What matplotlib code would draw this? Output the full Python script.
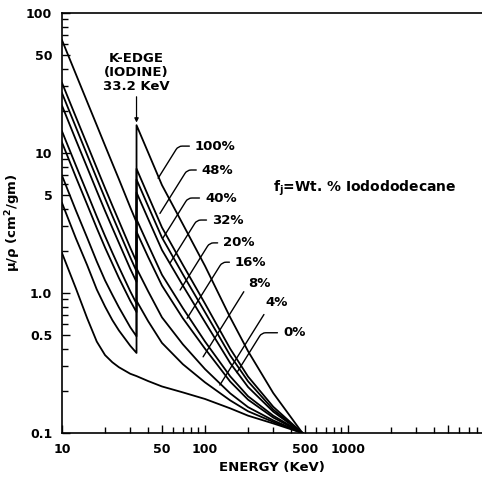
import matplotlib
matplotlib.use("Agg")
import matplotlib.pyplot as plt
from matplotlib.ticker import FixedLocator, FixedFormatter, NullFormatter

plt.rcParams['font.family'] = ['DejaVu Sans']
plt.rcParams['font.weight'] = 'bold'

# energy grid (keV), K-edge of iodine appears twice
energy = [10, 12.5, 15, 17.5, 20, 22.5, 25, 30, 33.2, 33.2, 40, 50, 70, 100, 150, 200, 300, 480]

# mass attenuation (cm^2/gm)
mu_100 = [64, 36.6, 23.2, 15.8, 11.3, 8.43, 6.5, 4.1, 3.2, 15.8, 10.1, 5.9, 3.1, 1.56, 0.67, 0.384, 0.193, 0.1]
mu_48 = [31.7, 18.1, 11.5, 7.82, 5.61, 4.21, 3.27, 2.11, 1.67, 7.72, 4.97, 2.94, 1.59, 0.84, 0.40, 0.253, 0.154, 0.1]
mu_40 = [26.8, 15.3, 9.69, 6.59, 4.74, 3.56, 2.77, 1.80, 1.43, 6.47, 4.18, 2.49, 1.36, 0.73, 0.358, 0.234, 0.147, 0.1]
mu_32 = [21.8, 12.4, 7.88, 5.36, 3.86, 2.92, 2.28, 1.49, 1.20, 5.23, 3.39, 2.03, 1.13, 0.62, 0.316, 0.213, 0.142, 0.1]
mu_20 = [14.3, 8.15, 5.18, 3.52, 2.55, 1.94, 1.53, 1.03, 0.84, 3.36, 2.21, 1.35, 0.78, 0.45, 0.254, 0.183, 0.133, 0.1]
mu_16 = [11.9, 6.73, 4.28, 2.91, 2.11, 1.62, 1.28, 0.88, 0.73, 2.74, 1.81, 1.13, 0.66, 0.40, 0.233, 0.173, 0.129, 0.1]
mu_8 = [6.9, 3.89, 2.48, 1.68, 1.23, 0.97, 0.79, 0.57, 0.49, 1.50, 1.03, 0.67, 0.43, 0.286, 0.192, 0.153, 0.123, 0.1]
mu_4 = [4.4, 2.46, 1.58, 1.06, 0.80, 0.64, 0.54, 0.42, 0.373, 0.88, 0.63, 0.44, 0.31, 0.23, 0.171, 0.143, 0.12, 0.1]
mu_0 = [1.93, 1.08, 0.66, 0.45, 0.36, 0.32, 0.295, 0.265, 0.255, 0.255, 0.235, 0.215, 0.195, 0.175, 0.15, 0.133, 0.117, 0.1]

curves = [mu_100, mu_48, mu_40, mu_32, mu_20, mu_16, mu_8, mu_4, mu_0]
labels = ["100%", "48%", "40%", "32%", "20%", "16%", "8%", "4%", "0%"]
# label text position and the point the leader touches
label_pos = [(85, 11.2), (95, 7.56), (100, 4.77), (112, 3.32), (134, 2.28),
             (162, 1.66), (200, 1.16), (263, 0.85), (351, 0.52)]
leader_end = [(47, 6.6), (48.4, 3.7), (50.8, 2.47), (57, 1.64), (67, 1.05),
              (75, 0.66), (97, 0.35), (127, 0.22), (167, 0.27)]

X_START = 10
X_END = 8650
Y_START = 0.1
Y_END = 100

fig = plt.figure(figsize=(4.82, 4.80), dpi=100)
ax = fig.add_axes([62/482, 1-433/480, 1-62/482, 420/480])
ax.set_xscale("log")
ax.set_yscale("log")

for c in curves:
    ax.plot(energy, c, color="black", lw=1.3)

for lab, p, e in zip(labels, label_pos, leader_end):
    ax.annotate(lab, xy=e, xytext=p, ha="left", va="center", fontsize=9.5,
                fontweight="bold",
                arrowprops=dict(arrowstyle="-", color="black", lw=1.0,
                                shrinkA=2, shrinkB=0,
                                connectionstyle="angle,angleA=0,angleB=58,rad=4"))

ax.annotate("K-EDGE\n(IODINE)\n33.2 KeV", xy=(33.2, 16.5), xytext=(33.2, 27),
            ha="center", va="bottom", fontsize=9.5, fontweight="bold",
            linespacing=1.1,
            arrowprops=dict(arrowstyle="-|>", color="black", lw=0.9,
                            mutation_scale=6, shrinkA=1, shrinkB=0))

ax.text(299, 5.6, "f$_\\mathregular{j}$=Wt. % Iodododecane", fontsize=10,
        fontweight="bold", ha="left", va="center")

ax.set_xlim(X_START, X_END)
ax.set_ylim(Y_START, Y_END)

x_major = [10, 50, 100, 500, 1000, 5000]
ax.xaxis.set_major_locator(FixedLocator(x_major))
ax.xaxis.set_major_formatter(FixedFormatter(["10", "50", "100", "500", "1000", ""]))
x_minor = [20, 30, 40, 60, 70, 80, 90, 200, 300, 400, 600, 700, 800, 900,
           2000, 3000, 4000, 6000, 7000, 8000]
ax.xaxis.set_minor_locator(FixedLocator(x_minor))
ax.xaxis.set_minor_formatter(NullFormatter())

y_major = [0.1, 0.5, 1, 5, 10, 50, 100]
ax.yaxis.set_major_locator(FixedLocator(y_major))
ax.yaxis.set_major_formatter(FixedFormatter(["0.1", "0.5", "1.0", "5", "10", "50", "100"]))
y_minor = [0.2, 0.3, 0.4, 0.6, 0.7, 0.8, 0.9, 2, 3, 4, 6, 7, 8, 9, 20, 30, 40, 60, 70, 80, 90]
ax.yaxis.set_minor_locator(FixedLocator(y_minor))
ax.yaxis.set_minor_formatter(NullFormatter())

ax.tick_params(which="both", direction="in", top=False, right=False,
               labelsize=9, width=1.0)
ax.tick_params(which="major", length=6, pad=7)
ax.tick_params(which="minor", length=4)
for t in ax.get_xticklabels() + ax.get_yticklabels():
    t.set_fontweight("bold")

ax.spines["right"].set_visible(False)
for s in ["left", "bottom", "top"]:
    ax.spines[s].set_linewidth(1.2)

ax.set_xlabel("ENERGY (KeV)", fontsize=9.5, fontweight="bold", labelpad=4)
ax.set_ylabel("\u03bc/\u03c1 (cm$^\\mathregular{2}$/gm)", fontsize=9.5,
              fontweight="bold", labelpad=2)

plt.savefig("out.png", dpi=100)
